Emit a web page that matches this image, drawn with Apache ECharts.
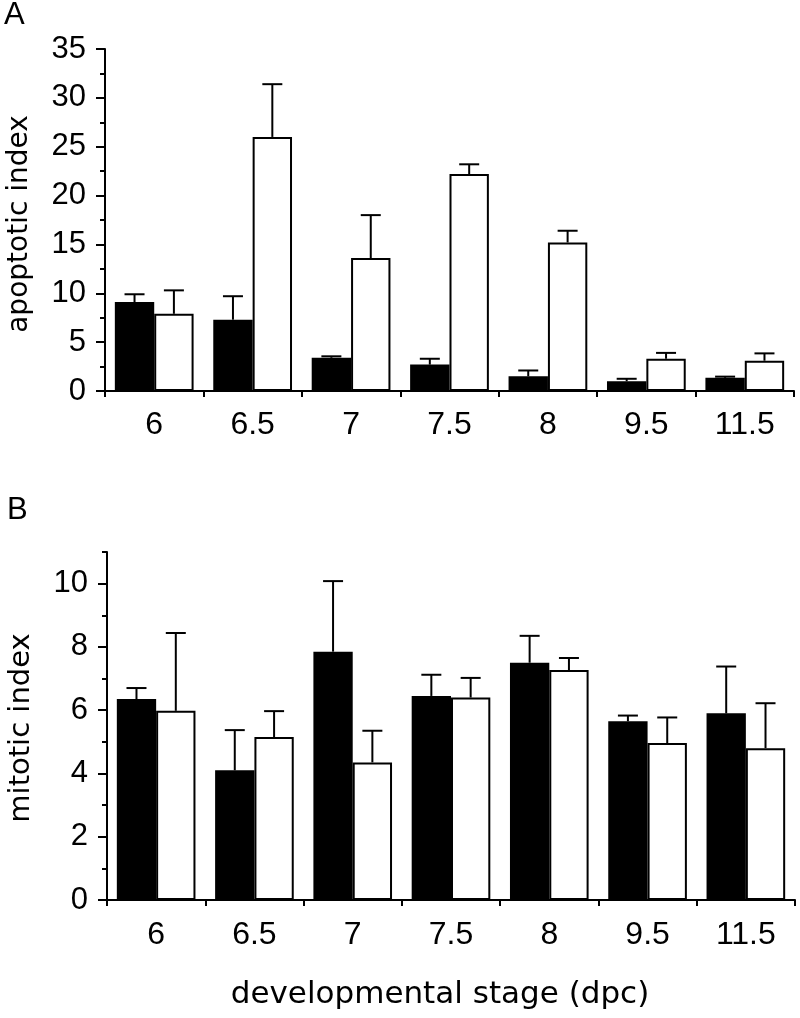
<!DOCTYPE html>
<html>
<head>
<meta charset="utf-8">
<script src="https://cdn.jsdelivr.net/npm/echarts@6/dist/echarts.min.js"></script>
<style>html,body{margin:0;padding:0;background:#fff;}#c{width:800px;height:1018px;}</style>
</head>
<body>
<div id="c"></div>
<script>
// ---- data ----
const categories = ['6', '6.5', '7', '7.5', '8', '9.5', '11.5'];
// Panel A: apoptotic index
const apopBlack = [9.1, 7.3, 3.4, 2.7, 1.5, 1.0, 1.35];
const apopBlackSD = [0.8, 2.4, 0.15, 0.6, 0.6, 0.25, 0.12];
const apopWhite = [7.9, 26.0, 13.6, 22.2, 15.2, 3.3, 3.1];
const apopWhiteSD = [2.4, 5.4, 4.4, 1.0, 1.2, 0.6, 0.75];
// Panel B: mitotic index
const mitBlack = [6.35, 4.1, 7.85, 6.45, 7.5, 5.65, 5.9];
const mitBlackSD = [0.35, 1.27, 2.23, 0.67, 0.85, 0.18, 1.48];
const mitWhite = [5.98, 5.15, 4.35, 6.4, 7.27, 4.96, 4.8];
const mitWhiteSD = [2.46, 0.82, 1.0, 0.62, 0.38, 0.81, 1.42];
// tick values
const apopMax = 35, apopInterval = 5;
const mitMax = 11;
const mitMajorTicks = [0, 2, 4, 6, 8, 10];
const mitMinorTicks = [1, 3, 5, 7, 9, 11];

const GAP = 0.2;
const numFont = 'Liberation Sans, Arial, sans-serif';
const txtFont = 'DejaVu Sans, sans-serif';
const black = '#000';

function errSeries(means, sds, side, gi) {
  return {
    type: 'custom', xAxisIndex: gi, yAxisIndex: gi, z: 5, silent: true,
    data: means.map((m, i) => [i, m, sds[i]]),
    renderItem: function (params, api) {
      const i = api.value(0), m = api.value(1), s = api.value(2);
      const base = api.coord([i, m]);
      const top = api.coord([i, m + s]);
      const band = api.size([1, 0])[0];
      const barW = band * (1 - GAP) / 2;
      const cx = base[0] + (side === 0 ? -barW / 2 : barW / 2);
      return {
        type: 'group', children: [
          { type: 'line', shape: { x1: cx, y1: base[1], x2: cx, y2: top[1] }, style: { stroke: black, lineWidth: 2 } },
          { type: 'line', shape: { x1: cx - 10, y1: top[1], x2: cx + 10, y2: top[1] }, style: { stroke: black, lineWidth: 2 } }
        ]
      };
    }
  };
}

function barSeries(vals, fill, gi) {
  return {
    type: 'bar', xAxisIndex: gi, yAxisIndex: gi, data: vals,
    barGap: '0%', barCategoryGap: (GAP * 100) + '%',
    itemStyle: { color: fill, borderColor: black, borderWidth: 2 },
    silent: true
  };
}

function xAxis(gi, margin) {
  return {
    type: 'category', gridIndex: gi, data: categories,
    axisLine: { lineStyle: { color: black, width: 2 } },
    axisTick: { show: true, length: 6, lineStyle: { color: black, width: 2 } },
    axisLabel: { color: black, fontFamily: numFont, fontSize: 32, margin: margin }
  };
}

const chart = echarts.init(document.getElementById('c'), null, { renderer: 'canvas' });
chart.setOption({
  animation: false,
  backgroundColor: '#fff',
  grid: [
    { left: 105, right: 6, top: 49, height: 342 },
    { left: 107, right: 5, top: 552, height: 348 }
  ],
  xAxis: [xAxis(0, 18), xAxis(1, 19)],
  yAxis: [
    {
      type: 'value', gridIndex: 0, min: 0, max: apopMax, interval: apopInterval,
      axisLine: { show: true, lineStyle: { color: black, width: 2 } },
      axisTick: { show: true, length: 9, lineStyle: { color: black, width: 2 } },
      minorTick: { show: true, splitNumber: 2, length: 5, lineStyle: { color: black, width: 2 } },
      splitLine: { show: false },
      axisLabel: { color: black, fontFamily: numFont, fontSize: 31, margin: 19 }
    },
    {
      type: 'value', gridIndex: 1, min: 0, max: mitMax, position: 'left',
      axisLine: { show: true, lineStyle: { color: black, width: 2 } },
      axisTick: { show: true, length: 9, customValues: mitMajorTicks, lineStyle: { color: black, width: 2 } },
      splitLine: { show: false },
      axisLabel: { color: black, fontFamily: numFont, fontSize: 31, margin: 19, customValues: mitMajorTicks }
    },
    {
      type: 'value', gridIndex: 1, min: 0, max: mitMax, position: 'left',
      axisLine: { show: false },
      axisTick: { show: true, length: 5, customValues: mitMinorTicks, lineStyle: { color: black, width: 2 } },
      splitLine: { show: false },
      axisLabel: { show: false }
    }
  ],
  graphic: [
    { type: 'text', left: 4, top: 0, style: { text: 'A', fontSize: 31, fontFamily: numFont, fill: black } },
    { type: 'text', left: 7, top: 495, style: { text: 'B', fontSize: 31, fontFamily: numFont, fill: black } },
    { type: 'text', x: 20, y: 224, rotation: Math.PI / 2, style: { text: 'apoptotic index', fontSize: 28, fontFamily: txtFont, fill: black, align: 'center', verticalAlign: 'middle' } },
    { type: 'text', x: 21, y: 728, rotation: Math.PI / 2, style: { text: 'mitotic index', fontSize: 29, fontFamily: txtFont, fill: black, align: 'center', verticalAlign: 'middle' } },
    { type: 'text', x: 440, y: 995, style: { text: 'developmental stage (dpc)', fontSize: 31, fontFamily: txtFont, fill: black, align: 'center', verticalAlign: 'middle' } }
  ],
  series: [
    barSeries(apopBlack, black, 0),
    barSeries(apopWhite, '#fff', 0),
    errSeries(apopBlack, apopBlackSD, 0, 0),
    errSeries(apopWhite, apopWhiteSD, 1, 0),
    barSeries(mitBlack, black, 1),
    barSeries(mitWhite, '#fff', 1),
    errSeries(mitBlack, mitBlackSD, 0, 1),
    errSeries(mitWhite, mitWhiteSD, 1, 1)
  ]
});
</script>
</body>
</html>
